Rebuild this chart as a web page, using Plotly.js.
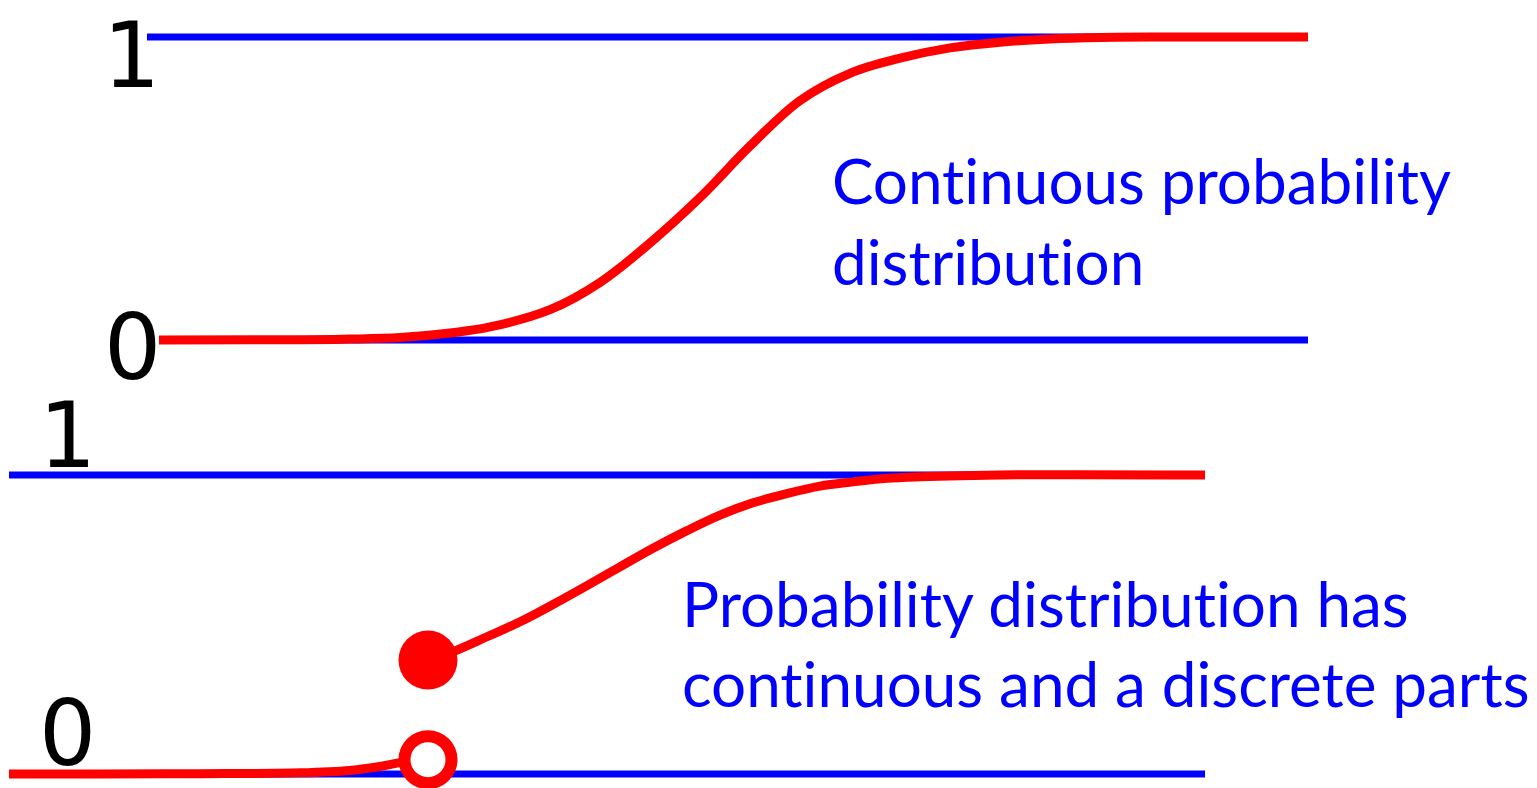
<!DOCTYPE html>
<html>
<head>
<meta charset="utf-8">
<script src="https://cdn.plot.ly/plotly-3.0.1.min.js"></script>
<style>
  html, body { margin: 0; padding: 0; background: #ffffff; }
  #chart { width: 1537px; height: 788px; }
  svg text { font-variant-ligatures: none; font-feature-settings: "liga" 0, "clig" 0; }
</style>
</head>
<body>
<div id="chart"></div>
<script>
// ---------- data (x in arbitrary units, y = cumulative probability) ----------
// Top panel: continuous CDF
const topCurveX = [1.59, 3.0, 3.5, 4.0, 4.5, 4.9, 5.5, 6.0, 6.5, 7.0, 7.5, 8.0, 8.5, 9.0, 9.5, 10.0, 10.5, 11.0, 11.5, 13.08];
const topCurveY = [0, 0.001, 0.003, 0.008, 0.023, 0.043, 0.10, 0.19, 0.32, 0.47, 0.64, 0.79, 0.88, 0.93, 0.964, 0.983, 0.993, 0.998, 1, 1];
const topOneX = [1.47, 13.08];
const topZeroX = [1.59, 13.08];

// Bottom panel: mixed CDF (continuous part + jump)
const botLeftX = [0.09, 1.0, 2.0, 3.0, 3.5, 3.8, 4.0, 4.28];
const botLeftY = [0, 0, 0.001, 0.004, 0.012, 0.025, 0.038, 0.048];
const botRightX = [4.28, 4.53, 4.87, 5.2, 5.53, 5.87, 6.2, 6.53, 6.87, 7.2, 7.53, 7.87, 8.2, 8.53, 8.87, 9.2, 10.0, 12.05];
const botRightY = [0.381, 0.409, 0.459, 0.509, 0.567, 0.63, 0.693, 0.755, 0.814, 0.866, 0.907, 0.938, 0.963, 0.977, 0.989, 0.994, 1, 1];
const jumpX = 4.28;
const jumpLow = 0.048;
const jumpHigh = 0.381;
const botOneX = [0.09, 12.05];
const botZeroX = [0.09, 12.05];

const levels = [0, 1];
const levelLabels = ['0', '1'];
const captionTop = ['Continuous probability', 'distribution'];
const captionBottom = ['Probability distribution has', 'continuous and a discrete parts'];

// ---------- styles ----------
const BLUE = '#0000ff';
const RED = '#ff0000';
const BLUE_W = 7;
const RED_W = 9;

function flat(xs, v) { return xs.map(() => v); }
function redLine() { return {color: RED, width: RED_W, shape: 'spline', smoothing: 1}; }

const traces = [
  // top panel (yaxis2)
  {x: topOneX, y: flat(topOneX, levels[1]), yaxis: 'y2', mode: 'lines', line: {color: BLUE, width: BLUE_W}},
  {x: topZeroX, y: flat(topZeroX, levels[0]), yaxis: 'y2', mode: 'lines', line: {color: BLUE, width: BLUE_W}},
  {x: topCurveX, y: topCurveY, yaxis: 'y2', mode: 'lines', line: redLine()},
  // bottom panel (yaxis)
  {x: botOneX, y: flat(botOneX, levels[1]), yaxis: 'y', mode: 'lines', line: {color: BLUE, width: BLUE_W}},
  {x: botZeroX, y: flat(botZeroX, levels[0]), yaxis: 'y', mode: 'lines', line: {color: BLUE, width: BLUE_W}},
  {x: botLeftX, y: botLeftY, yaxis: 'y', mode: 'lines', line: redLine()},
  {x: botRightX, y: botRightY, yaxis: 'y', mode: 'lines', line: redLine()},
  {x: [jumpX], y: [jumpLow], yaxis: 'y', mode: 'markers', cliponaxis: false,
   marker: {symbol: 'circle', size: 47, color: '#ffffff', line: {color: RED, width: 12}}},
  {x: [jumpX], y: [jumpHigh], yaxis: 'y', mode: 'markers', cliponaxis: false,
   marker: {symbol: 'circle', size: 59, color: RED, line: {width: 0}}}
];

const digitFont = {family: 'DejaVu Sans', size: 90, color: '#000000'};
const textFont = {family: 'Lato', size: 62, color: BLUE};

function ann(x, y, yref, text, xanchor, font) {
  return {x: x, y: y, xref: 'x', yref: yref, text: text, showarrow: false,
          xanchor: xanchor, yanchor: 'middle', font: font};
}

const annotations = [
  ann(1.31, 0.938, 'y2', levelLabels[1], 'center', digitFont),
  ann(1.32, -0.025, 'y2', levelLabels[0], 'center', digitFont),
  ann(0.675, 1.132, 'y', levelLabels[1], 'center', digitFont),
  ann(0.67, 0.137, 'y', levelLabels[0], 'center', digitFont),
  ann(8.30, 0.528, 'y2', captionTop[0], 'left', textFont),
  ann(8.30, 0.262, 'y2', captionTop[1], 'left', textFont),
  ann(6.80, 0.573, 'y', captionBottom[0], 'left', textFont),
  ann(6.80, 0.305, 'y', captionBottom[1], 'left', textFont)
];

const layout = {
  width: 1537, height: 788,
  margin: {l: 0, r: 0, t: 0, b: 0, pad: 0},
  paper_bgcolor: '#ffffff', plot_bgcolor: '#ffffff',
  showlegend: false,
  xaxis: {range: [0, 15.37], visible: false, fixedrange: true},
  yaxis: {range: [-0.0468, 2.5886], visible: false, fixedrange: true},
  yaxis2: {range: [-1.4785, 1.1221], overlaying: 'y', visible: false, fixedrange: true},
  annotations: annotations
};

Plotly.newPlot('chart', traces, layout, {staticPlot: true, displayModeBar: false});
</script>
</body>
</html>
